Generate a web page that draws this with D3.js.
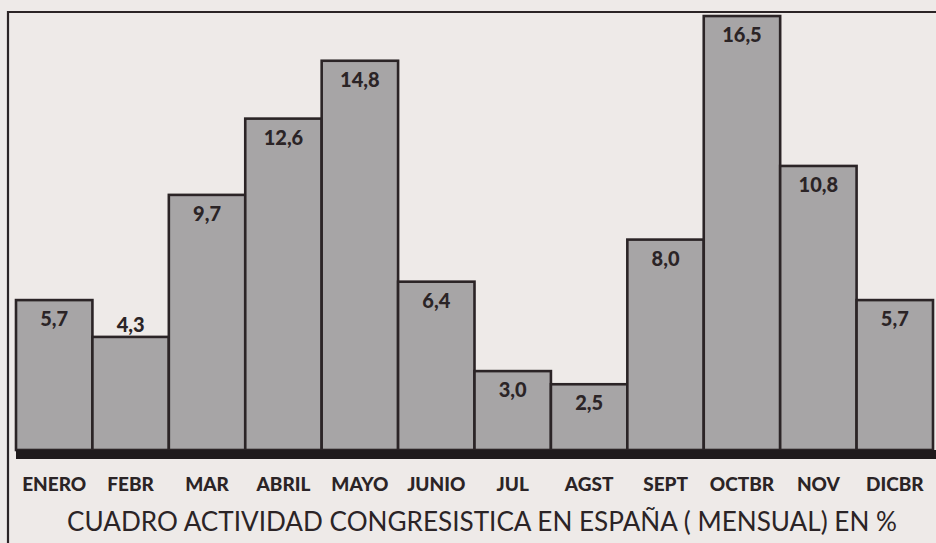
<!DOCTYPE html>
<html lang="es">
<head>
<meta charset="utf-8">
<title>Cuadro actividad congresistica</title>
<script src="https://d3js.org/d3.v7.min.js"></script>
<style>
  body { margin: 0; background: #eeeae8; }
  svg { display: block; }
</style>
</head>
<body>
<div id="chart"></div>
<script>
// data
var months = ["ENERO", "FEBR", "MAR", "ABRIL", "MAYO", "JUNIO", "JUL", "AGST", "SEPT", "OCTBR", "NOV", "DICBR"];
var values = [5.7, 4.3, 9.7, 12.6, 14.8, 6.4, 3.0, 2.5, 8.0, 16.5, 10.8, 5.7];
var title = "CUADRO ACTIVIDAD CONGRESISTICA EN ESPAÑA ( MENSUAL) EN %";

var w = 936, h = 543;
var ink = "#2b2426";

var svg = d3.select("#chart").append("svg")
  .attr("width", w)
  .attr("height", h);

svg.append("rect").attr("width", w).attr("height", h).attr("fill", "#eeeae8");

// frame (top and left lines)
svg.append("path")
  .attr("d", "M8,543 V12 H936")
  .attr("fill", "none")
  .attr("stroke", ink)
  .attr("stroke-width", 2.2);

var x = d3.scaleBand().domain(months).range([16, 933]).padding(0);
var y = d3.scaleLinear().domain([0, 17.11]).range([450, 0]);

var es = d3.formatLocale({decimal: ",", thousands: ".", grouping: [3], currency: ["", " €"]});
var fmt = es.format(".1f");

var data = months.map(function(m, i) { return {month: m, val: values[i]}; });

svg.selectAll("rect.bar")
  .data(data)
  .enter()
  .append("rect")
  .attr("class", "bar")
  .attr("x", function(d) { return x(d.month); })
  .attr("y", function(d) { return y(d.val); })
  .attr("width", x.bandwidth())
  .attr("height", function(d) { return y(0) - y(d.val); })
  .attr("fill", "#a7a5a6")
  .attr("stroke", ink)
  .attr("stroke-width", 2.6);

// thick base line
svg.append("rect")
  .attr("x", 16)
  .attr("y", y(0))
  .attr("width", w - 16)
  .attr("height", 9)
  .attr("fill", "#1f1a1c");

// value labels (FEBR sits on top of its bar)
svg.selectAll("text.val")
  .data(data)
  .enter()
  .append("text")
  .attr("class", "val")
  .attr("x", function(d) { return x(d.month) + x.bandwidth() / 2; })
  .attr("y", function(d) { return d.month === "FEBR" ? y(d.val) - 5 : y(d.val) + 26; })
  .attr("text-anchor", "middle")
  .style("font-family", "Lato, 'Open Sans', sans-serif")
  .style("font-weight", "900")
  .style("font-size", "20px")
  .attr("fill", ink)
  .text(function(d) { return fmt(d.val); });

// month axis
var xAxis = d3.axisBottom(x).tickSize(0).tickPadding(0);
var ax = svg.append("g")
  .attr("transform", "translate(0,491)")
  .call(xAxis);
ax.select(".domain").remove();
ax.selectAll("text")
  .attr("dy", 0)
  .style("font-family", "Lato, 'Open Sans', sans-serif")
  .style("font-weight", "900")
  .style("font-size", "19px")
  .attr("fill", ink);

// title
svg.append("text")
  .attr("x", 482)
  .attr("y", 531)
  .attr("text-anchor", "middle")
  .attr("textLength", 830)
  .attr("lengthAdjust", "spacingAndGlyphs")
  .style("font-family", "Lato, 'Open Sans', sans-serif")
  .style("font-size", "27px")
  .attr("fill", ink)
  .text(title);
</script>
</body>
</html>
